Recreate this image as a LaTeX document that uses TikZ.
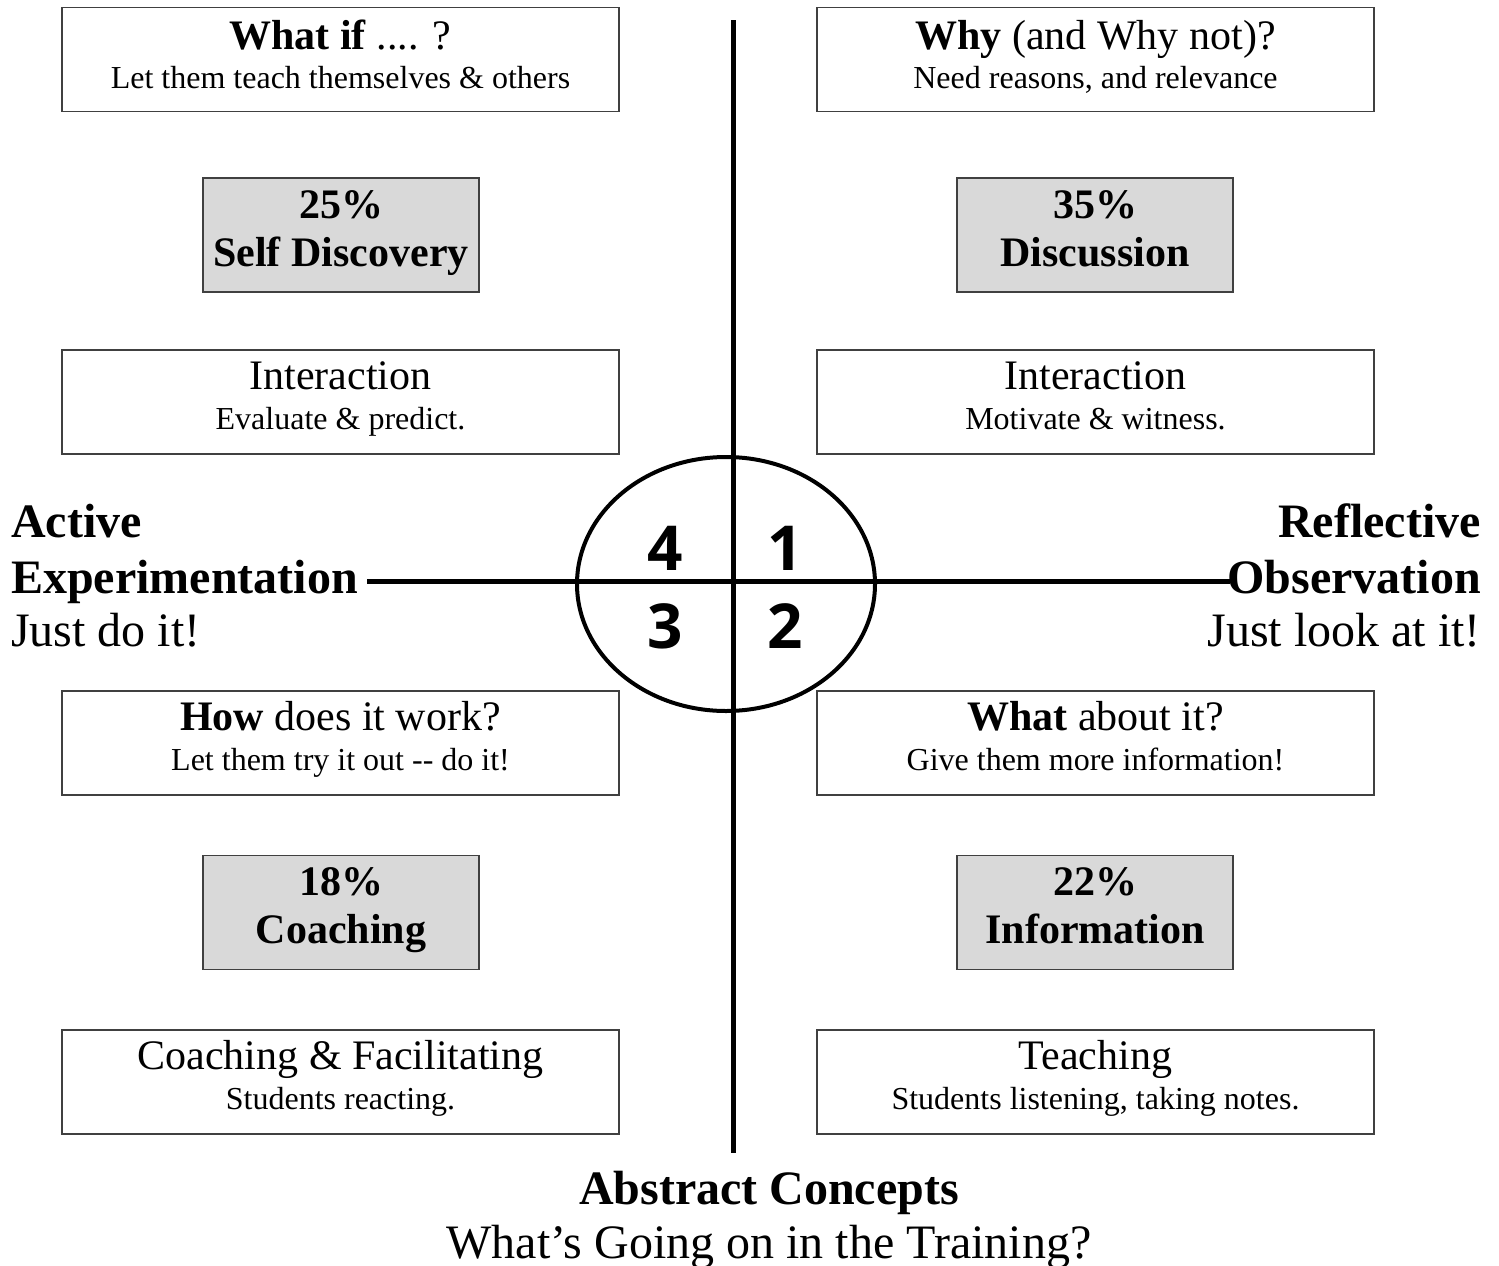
\documentclass[tikz,border=0pt]{standalone}
\usepackage{fontspec}
\usetikzlibrary{shapes.geometric}
\setmainfont{Liberation Serif}
\newfontfamily\digitfont{Open Sans}
\begin{document}
\begin{tikzpicture}[x=1pt,y=-1pt,
  wbox/.style={draw=black!75,line width=1.3pt,fill=white,minimum width=557pt,minimum height=104pt,inner sep=0pt},
  gbox/.style={draw=black!75,line width=1.3pt,fill=black!15,minimum width=276pt,minimum height=114pt,inner sep=0pt},
  big/.style={anchor=base,inner sep=0pt,font=\fontsize{42}{48}\selectfont},
  small/.style={anchor=base,inner sep=0pt,font=\fontsize{32}{38}\selectfont},
  gtxt/.style={anchor=base,inner sep=0pt,font=\fontsize{42}{48}\selectfont\bfseries},
  lbl/.style={inner sep=0pt,font=\fontsize{48}{54}\selectfont},
  axis/.style={line width=5pt},
  num/.style={anchor=base,inner sep=0pt,font=\fontsize{62}{70}\selectfont\digitfont\bfseries}]
\useasboundingbox (0,0) rectangle (1499,1266);
\fill[white] (0,0) rectangle (1499,1266);

% axes
\coordinate (vtop) at (733,20);
\coordinate (vbot) at (733,1153);
\coordinate (hleft) at (367,581);
\coordinate (hright) at (1230,581);
\draw[axis] (vtop) -- (vbot);
\draw[axis] (hleft) -- (hright);
\node[draw,line width=4pt,ellipse,minimum width=298pt,minimum height=254pt,inner sep=0pt] (circ) at (726,584) {};
\node[num] (n4) at (665,570) {4};
\node[num] (n1) at (785,570) {1};
\node[num] (n3) at (665,648) {3};
\node[num] (n2) at (785,648) {2};

% top row
\node[wbox] (b1) at (340.5,59.5) {};
\node[big] (b1a) at (340.5,49) {\textbf{What if} .... ?};
\node[small] (b1b) at (340.5,88) {Let them teach themselves \&  others};
\node[wbox] (b2) at (1095.5,59.5) {};
\node[big] (b2a) at (1095.5,49) {\textbf{Why} (and Why not)?};
\node[small] (b2b) at (1095.5,88) {Need reasons, and relevance};

\node[gbox] (g1) at (341,235) {};
\node[gtxt] (g1a) at (341,218) {25\%};
\node[gtxt] (g1b) at (341,266) {Self Discovery};
\node[gbox] (g2) at (1095,235) {};
\node[gtxt] (g2a) at (1095,218) {35\%};
\node[gtxt] (g2b) at (1095,266) {Discussion};

\node[wbox] (i1) at (340.5,402) {};
\node[big] (i1a) at (340.5,389) {Interaction};
\node[small] (i1b) at (340.5,429) {Evaluate \& predict.};
\node[wbox] (i2) at (1095.5,402) {};
\node[big] (i2a) at (1095.5,389) {Interaction};
\node[small] (i2b) at (1095.5,429) {Motivate \& witness.};

% lower half
\node[wbox] (h1) at (340.5,743) {};
\node[big] (h1a) at (340.5,730) {\textbf{How} does it work?};
\node[small] (h1b) at (340.5,770) {Let them try it out -\/- do it!};
\node[wbox] (h2) at (1095.5,743) {};
\node[big] (h2a) at (1095.5,730) {\textbf{What} about it?};
\node[small] (h2b) at (1095.5,770) {Give them more information!};

\node[gbox] (g3) at (341,912.5) {};
\node[gtxt] (g3a) at (341,895) {18\%};
\node[gtxt] (g3b) at (341,943) {Coaching};
\node[gbox] (g4) at (1095,912.5) {};
\node[gtxt] (g4a) at (1095,895) {22\%};
\node[gtxt] (g4b) at (1095,943) {Information};

\node[wbox] (c1) at (340.5,1082) {};
\node[big] (c1a) at (340.5,1069) {Coaching \& Facilitating};
\node[small] (c1b) at (340.5,1109) {Students reacting.};
\node[wbox] (c2) at (1095.5,1082) {};
\node[big] (c2a) at (1095.5,1069) {Teaching};
\node[small] (c2b) at (1095.5,1109) {Students listening, taking notes.};

% side labels
\node[lbl,anchor=base west] (l1) at (11,537) {\textbf{Active}};
\node[lbl,anchor=base west] (l2) at (11,593) {\textbf{Experimentation}};
\node[lbl,anchor=base west] (l3) at (11,646) {Just do it!};
\node[lbl,anchor=base east] (r1) at (1481,537) {\textbf{Reflective}};
\node[lbl,anchor=base east] (r2) at (1481,593) {\textbf{Observation}};
\node[lbl,anchor=base east] (r3) at (1481,646) {Just look at it!};

% bottom
\node[lbl,anchor=base] (t1) at (769,1204) {\textbf{Abstract Concepts}};
\node[lbl,anchor=base] (t2) at (769,1258) {What’s Going on in the Training?};
\end{tikzpicture}
\end{document}
